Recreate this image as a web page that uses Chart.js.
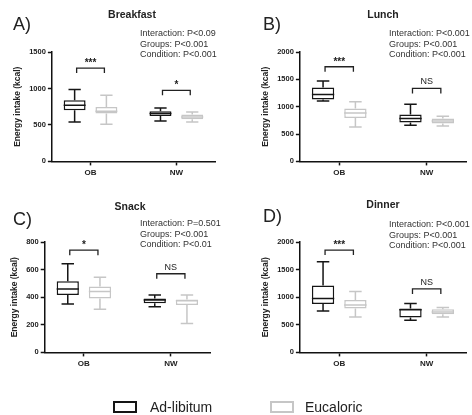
<!DOCTYPE html>
<html>
<head>
<meta charset="utf-8">
<script src="https://cdn.jsdelivr.net/npm/chart.js@4"></script>
<style>
  body { margin: 0; background: #fff; font-family: "Liberation Sans", Arial, sans-serif; }
  #wrap { position: relative; width: 472px; height: 415px; overflow: hidden; }
  .panel { position: absolute; width: 236px; height: 200px; }
  .key { position: absolute; top: 400px; height: 14px; font-size: 14px; line-height: 14px; color: #222; }
  .key i { position: absolute; left: 0; top: 1px; width: 20px; height: 8px; border: 2px solid; }
  .key span { position: absolute; white-space: nowrap; }
</style>
</head>
<body>
<div id="wrap">
  <div class="panel" style="left:0;top:0"><canvas id="c0" width="236" height="200"></canvas></div>
  <div class="panel" style="left:236px;top:0"><canvas id="c1" width="236" height="200"></canvas></div>
  <div class="panel" style="left:0;top:200px"><canvas id="c2" width="236" height="200"></canvas></div>
  <div class="panel" style="left:236px;top:200px"><canvas id="c3" width="236" height="200"></canvas></div>
  <div class="key" style="left:113px"><i style="border-color:#151515"></i><span style="left:37px">Ad-libitum</span></div>
  <div class="key" style="left:270px"><i style="border-color:#c6c6c6"></i><span style="left:35px">Eucaloric</span></div>
</div>
<script>
const meals = ['Breakfast', 'Lunch', 'Snack', 'Dinner'];
const letters = ['A)', 'B)', 'C)', 'D)'];
const groups = ['OB', 'NW'];
const conditions = ['Ad-libitum', 'Eucaloric'];
const yMax = [1500, 2000, 800, 2000];
const yStep = [500, 500, 200, 500];

// Ad-libitum box plot summaries per meal, each [OB, NW]
const adMin = [[541, 554], [1106, 661], [350, 330], [752, 581]];
const adQ1 = [[701, 624], [1132, 710], [416, 357], [875, 630]];
const adMed = [[770, 656], [1223, 783], [460, 379], [978, 772]];
const adQ3 = [[839, 688], [1352, 857], [516, 391], [1211, 795]];
const adMax = [[986, 733], [1468, 1046], [643, 416], [1640, 886]];

// Eucaloric box plot summaries per meal, each [OB, NW]
const eucMin = [[509, 541], [630, 648], [313, 210], [642, 642]];
const eucQ1 = [[656, 578], [795, 691], [391, 343], [795, 691]];
const eucMed = [[688, 610], [887, 740], [442, 374], [857, 734]];
const eucQ3 = [[747, 642], [967, 783], [477, 384], [948, 783]];
const eucMax = [[908, 678], [1089, 826], [545, 416], [1101, 813]];

// significance brackets: height in kcal and label, each [OB, NW]
const bracketAt = [[1280, 975], [1730, 1334], [741, 570], [1853, 1150]];
const sigMarks = [['***', '*'], ['***', 'NS'], ['*', 'NS'], ['***', 'NS']];

const statLines = [
  ['Interaction: P<0.09', 'Groups: P<0.001', 'Condition: P<0.001'],
  ['Interaction: P<0.001', 'Groups: P<0.001', 'Condition: P<0.001'],
  ['Interaction: P=0.501', 'Groups: P<0.001', 'Condition: P<0.01'],
  ['Interaction: P<0.001', 'Groups: P<0.001', 'Condition: P<0.001']
];

const adColor = '#151515';
const eucColor = '#c6c6c6';
const fontFamily = '"Liberation Sans", Arial, sans-serif';

// per-panel placement of the chart area and the free text
const layouts = [
  { pad: { top: 52, bottom: 19, left: 13, right: 21 }, title: [132, 15], letter: [13, 25], stats: [140, 34] },
  { pad: { top: 52, bottom: 19, left: 25, right: 6 }, title: [147, 15], letter: [27, 25], stats: [153, 34] },
  { pad: { top: 42, bottom: 28, left: 10, right: 26 }, title: [130, 7], letter: [13, 20], stats: [140, 24] },
  { pad: { top: 42, bottom: 28, left: 25, right: 6 }, title: [147, 5], letter: [27, 17], stats: [153, 25] }
];

// whiskers, medians, brackets and panel text
const boxPlotExtras = {
  id: 'boxPlotExtras',
  afterDatasetsDraw(chart, args, opts) {
    const ctx = chart.ctx;
    const y = chart.scales.y;
    const centers = [];
    chart.data.datasets.forEach((ds, di) => {
      const meta = chart.getDatasetMeta(di);
      centers.push(meta.data.map(b => b.x));
      meta.data.forEach((bar, i) => {
        const cap = bar.width * 0.28;
        const yTop = y.getPixelForValue(ds.q3[i]);
        const yBot = y.getPixelForValue(ds.q1[i]);
        const yMaxP = y.getPixelForValue(ds.max[i]);
        const yMinP = y.getPixelForValue(ds.min[i]);
        const yMed = y.getPixelForValue(ds.median[i]);
        ctx.save();
        ctx.strokeStyle = ds.borderColor;
        ctx.lineWidth = 1.5;
        ctx.beginPath();
        ctx.moveTo(bar.x, yTop); ctx.lineTo(bar.x, yMaxP);
        ctx.moveTo(bar.x - cap, yMaxP); ctx.lineTo(bar.x + cap, yMaxP);
        ctx.moveTo(bar.x, yBot); ctx.lineTo(bar.x, yMinP);
        ctx.moveTo(bar.x - cap, yMinP); ctx.lineTo(bar.x + cap, yMinP);
        ctx.moveTo(bar.x - bar.width / 2, yMed); ctx.lineTo(bar.x + bar.width / 2, yMed);
        ctx.stroke();
        ctx.restore();
      });
    });

    ctx.save();
    ctx.strokeStyle = '#222';
    ctx.fillStyle = '#222';
    ctx.lineWidth = 1.3;
    ctx.textAlign = 'center';
    opts.brackets.forEach((v, i) => {
      const x1 = centers[0][i] + 2;
      const x2 = centers[1][i] - 2;
      const yb = y.getPixelForValue(v);
      ctx.beginPath();
      ctx.moveTo(x1, yb + 5); ctx.lineTo(x1, yb); ctx.lineTo(x2, yb); ctx.lineTo(x2, yb + 5);
      ctx.stroke();
      const mark = opts.marks[i];
      if (mark === 'NS') {
        ctx.font = '9px ' + fontFamily;
        ctx.textBaseline = 'bottom';
        ctx.fillText(mark, (x1 + x2) / 2, yb - 2);
      } else {
        ctx.font = 'bold 10px ' + fontFamily;
        ctx.textBaseline = 'middle';
        ctx.fillText(mark, (x1 + x2) / 2, yb - 5);
      }
    });

    ctx.textBaseline = 'middle';
    ctx.font = 'bold 10.5px ' + fontFamily;
    ctx.fillText(opts.title, opts.layout.title[0], opts.layout.title[1]);
    ctx.textAlign = 'left';
    ctx.font = '18px ' + fontFamily;
    ctx.fillText(opts.letter, opts.layout.letter[0], opts.layout.letter[1]);
    ctx.font = '9px ' + fontFamily;
    ctx.fillStyle = '#333';
    opts.stats.forEach((line, k) => {
      ctx.fillText(line, opts.layout.stats[0], opts.layout.stats[1] + k * 10.5);
    });
    ctx.restore();
  }
};

meals.forEach((meal, m) => {
  const lay = layouts[m];
  new Chart(document.getElementById('c' + m), {
    type: 'bar',
    data: {
      datasets: [
        {
          label: conditions[0],
          data: groups.map((g, i) => ({ x: i, y: [adQ1[m][i], adQ3[m][i]] })),
          q1: adQ1[m], q3: adQ3[m], min: adMin[m], max: adMax[m], median: adMed[m],
          backgroundColor: '#fff',
          borderColor: adColor,
          borderWidth: 1.5,
          borderSkipped: false
        },
        {
          label: conditions[1],
          data: groups.map((g, i) => ({ x: i, y: [eucQ1[m][i], eucQ3[m][i]] })),
          q1: eucQ1[m], q3: eucQ3[m], min: eucMin[m], max: eucMax[m], median: eucMed[m],
          backgroundColor: '#fff',
          borderColor: eucColor,
          borderWidth: 1.5,
          borderSkipped: false
        }
      ]
    },
    options: {
      responsive: false,
      animation: false,
      layout: { padding: lay.pad },
      datasets: {
        bar: { categoryPercentage: 0.74, barPercentage: 0.69 }
      },
      plugins: {
        legend: { display: false },
        tooltip: { enabled: false },
        boxPlotExtras: {
          title: meal,
          letter: letters[m],
          stats: statLines[m],
          brackets: bracketAt[m],
          marks: sigMarks[m],
          layout: lay
        }
      },
      scales: {
        x: {
          type: 'linear',
          offset: false,
          min: -0.45,
          max: 1.45,
          grid: { offset: false, drawOnChartArea: false, drawTicks: true, tickLength: 4, tickWidth: 1.5, tickColor: '#111' },
          border: { display: true, color: '#111', width: 1.5 },
          ticks: {
            stepSize: 1,
            includeBounds: false,
            padding: 3,
            color: '#222',
            font: { family: fontFamily, size: 8, weight: 'bold' },
            callback: v => groups[v]
          }
        },
        y: {
          min: 0,
          max: yMax[m],
          ticks: {
            stepSize: yStep[m],
            color: '#222',
            padding: 2,
            font: { family: fontFamily, size: 7.5, weight: 'bold' },
            callback: v => String(v)
          },
          grid: { drawOnChartArea: false, drawTicks: true, tickLength: 4, tickWidth: 1.5, tickColor: '#111' },
          border: { display: true, color: '#111', width: 1.5 },
          title: {
            display: true,
            text: 'Energy intake (kcal)',
            color: '#222',
            padding: { top: 0, bottom: 4 },
            font: { family: fontFamily, size: 8.5, weight: 'bold' }
          }
        }
      }
    },
    plugins: [boxPlotExtras]
  });
});
</script>
</body>
</html>
